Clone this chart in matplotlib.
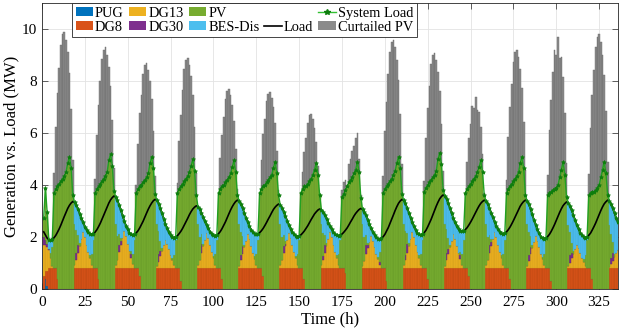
import numpy as np
import matplotlib.pyplot as plt
from matplotlib.patches import Patch
from matplotlib.lines import Line2D

plt.rcParams['font.family'] = ['Liberation Serif', 'DejaVu Serif']

# ── Data: 14 days x 24 h (MW) ─────────────────────
load_rows = [
    [2.20, 2.08, 1.96, 1.90, 1.88, 1.91, 1.97, 2.06, 2.18, 2.31, 2.46, 2.63, 2.79, 2.95, 3.10, 3.22, 3.31, 3.37, 3.33, 3.23, 3.08, 2.90, 2.72, 2.56],
    [2.40, 2.28, 2.18, 2.12, 2.10, 2.13, 2.19, 2.28, 2.40, 2.53, 2.68, 2.84, 3.00, 3.17, 3.31, 3.43, 3.52, 3.58, 3.54, 3.42, 3.24, 3.03, 2.82, 2.62],
    [2.44, 2.29, 2.17, 2.10, 2.08, 2.11, 2.16, 2.24, 2.35, 2.48, 2.61, 2.77, 2.92, 3.07, 3.20, 3.31, 3.40, 3.45, 3.41, 3.29, 3.11, 2.91, 2.70, 2.51],
    [2.33, 2.19, 2.07, 2.00, 1.98, 2.00, 2.05, 2.13, 2.22, 2.33, 2.46, 2.59, 2.72, 2.86, 2.98, 3.08, 3.15, 3.20, 3.17, 3.07, 2.94, 2.77, 2.61, 2.46],
    [2.33, 2.21, 2.12, 2.07, 2.05, 2.08, 2.13, 2.21, 2.32, 2.45, 2.58, 2.74, 2.89, 3.04, 3.17, 3.28, 3.37, 3.42, 3.38, 3.27, 3.12, 2.93, 2.75, 2.58],
    [2.42, 2.28, 2.18, 2.12, 2.10, 2.12, 2.17, 2.24, 2.33, 2.44, 2.56, 2.69, 2.81, 2.94, 3.06, 3.15, 3.22, 3.27, 3.23, 3.13, 2.98, 2.81, 2.63, 2.47],
    [2.32, 2.20, 2.10, 2.04, 2.02, 2.04, 2.08, 2.15, 2.23, 2.33, 2.43, 2.55, 2.67, 2.78, 2.89, 2.97, 3.04, 3.08, 3.05, 2.97, 2.84, 2.70, 2.55, 2.42],
    [2.30, 2.19, 2.11, 2.07, 2.05, 2.07, 2.11, 2.18, 2.26, 2.35, 2.46, 2.58, 2.69, 2.81, 2.91, 2.99, 3.06, 3.10, 3.06, 2.97, 2.83, 2.66, 2.50, 2.34],
    [2.20, 2.09, 1.99, 1.94, 1.92, 1.95, 2.01, 2.10, 2.23, 2.36, 2.52, 2.69, 2.85, 3.02, 3.17, 3.30, 3.39, 3.45, 3.41, 3.30, 3.13, 2.94, 2.75, 2.57],
    [2.41, 2.27, 2.16, 2.10, 2.08, 2.11, 2.17, 2.26, 2.39, 2.53, 2.68, 2.85, 3.02, 3.19, 3.34, 3.47, 3.56, 3.62, 3.58, 3.47, 3.30, 3.10, 2.91, 2.72],
    [2.56, 2.42, 2.30, 2.24, 2.22, 2.24, 2.29, 2.36, 2.46, 2.57, 2.69, 2.82, 2.95, 3.08, 3.20, 3.30, 3.37, 3.42, 3.38, 3.28, 3.12, 2.94, 2.76, 2.59],
    [2.43, 2.30, 2.20, 2.14, 2.12, 2.15, 2.20, 2.28, 2.38, 2.50, 2.63, 2.77, 2.91, 3.06, 3.19, 3.29, 3.37, 3.42, 3.38, 3.26, 3.08, 2.87, 2.66, 2.47],
    [2.29, 2.14, 2.02, 1.95, 1.93, 1.96, 2.02, 2.10, 2.21, 2.34, 2.48, 2.64, 2.80, 2.95, 3.09, 3.21, 3.29, 3.35, 3.31, 3.20, 3.03, 2.84, 2.65, 2.47],
    [2.31, 2.17, 2.06, 2.00, 1.98, 2.01, 2.07, 2.15, 2.27, 2.40, 2.54, 2.70, 2.86, 3.02, 3.16, 3.28, 3.36, 3.42, 3.38, 3.27, 3.10, 2.91, 2.72, 2.56],
]

pug_rows = [[0, 0.4, 0.1] + [0] * 21] + [[0] * 24] * 13

dg8_rows = [
    [.5, .3, .6, .8, .8, .8, .8, .8, .4, 0, 0, 0, 0, 0, 0, 0, 0, 0, .8, .8, .8, .8, .8, .8],
    [.8, .8, .8, .8, .8, .8, .8, .8, .4, 0, 0, 0, 0, 0, 0, 0, 0, 0, .8, .8, .8, .8, .8, .8],
    [.8, .8, .8, .8, .8, .8, .8, .8, .5, 0, 0, 0, 0, 0, 0, 0, 0, 0, .8, .8, .8, .8, .8, .8],
    [.8, .8, .8, .8, .8, .8, .8, .8, .3, 0, 0, 0, 0, 0, 0, 0, 0, 0, .8, .8, .8, .8, .8, .8],
    [.8, .8, .8, .8, .8, .8, .8, .8, .4, 0, 0, 0, 0, 0, 0, 0, 0, 0, .8, .8, .8, .8, .8, .8],
    [.8, .8, .8, .8, .8, .8, .8, .8, .5, 0, 0, 0, 0, 0, 0, 0, 0, 0, .8, .8, .8, .8, .8, .8],
    [.8, .8, .8, .8, .8, .8, .8, .8, .4, 0, 0, 0, 0, 0, 0, 0, 0, 0, .8, .8, .8, .8, .8, .8],
    [.8, .8, .8, .8, .8, .8, .8, .8, .6, 0, 0, 0, 0, 0, 0, 0, 0, 0, .8, .8, .8, .8, .8, .8],
    [.8, .8, .8, .8, .8, .8, .8, .8, .3, 0, 0, 0, 0, 0, 0, 0, 0, 0, .8, .8, .8, .8, .8, .8],
    [.8, .8, .8, .8, .8, .8, .8, .8, .4, 0, 0, 0, 0, 0, 0, 0, 0, 0, .8, .8, .8, .8, .8, .8],
    [.8, .8, .8, .8, .8, .8, .8, .8, .5, 0, 0, 0, 0, 0, 0, 0, 0, 0, .8, .8, .8, .8, .8, .8],
    [.8, .8, .8, .8, .8, .8, .8, .8, .4, 0, 0, 0, 0, 0, 0, 0, 0, 0, .8, .8, .8, .8, .8, .8],
    [.8, .8, .8, .8, .8, .8, .8, .8, .3, 0, 0, 0, 0, 0, 0, 0, 0, 0, .8, .8, .8, .8, .8, .8],
    [.8, .8, .8, .8, .8, .8, .8, .8, .4, 0, 0, 0, 0, 0, 0, 0, 0, 0, .8, .8, .8, .8, .8, .8],
]

dg13_rows = [
    [1.20, 1.00, .90, .70, .40, .10, 0, 0, 0, 0, 0, 0, 0, 0, 0, 0, 0, 0, .11, .32, .59, .87, 1.13, 1.40],
    [1.19, .91, .63, .39, .14, 0, 0, 0, 0, 0, 0, 0, 0, 0, 0, 0, 0, 0, .12, .33, .61, .90, 1.17, 1.45],
    [1.23, .94, .65, .41, .15, 0, 0, 0, 0, 0, 0, 0, 0, 0, 0, 0, 0, 0, .09, .25, .46, .68, .89, 1.10],
    [.94, .72, .50, .31, .11, 0, 0, 0, 0, 0, 0, 0, 0, 0, 0, 0, 0, 0, .11, .31, .57, .84, 1.09, 1.35],
    [1.15, .88, .61, .38, .14, 0, 0, 0, 0, 0, 0, 0, 0, 0, 0, 0, 0, 0, .10, .30, .55, .81, 1.05, 1.30],
    [1.11, .85, .59, .36, .13, 0, 0, 0, 0, 0, 0, 0, 0, 0, 0, 0, 0, 0, .11, .31, .57, .84, 1.09, 1.35],
    [1.15, .88, .61, .38, .14, 0, 0, 0, 0, 0, 0, 0, 0, 0, 0, 0, 0, 0, .11, .32, .59, .87, 1.13, 1.40],
    [1.19, .91, .63, .39, .14, 0, 0, 0, 0, 0, 0, 0, 0, 0, 0, 0, 0, 0, .10, .29, .53, .78, 1.01, 1.25],
    [1.06, .81, .56, .35, .13, 0, 0, 0, 0, 0, 0, 0, 0, 0, 0, 0, 0, 0, .11, .32, .59, .87, 1.13, 1.40],
    [1.19, .91, .63, .39, .14, 0, 0, 0, 0, 0, 0, 0, 0, 0, 0, 0, 0, 0, .10, .30, .55, .81, 1.05, 1.30],
    [1.11, .85, .59, .36, .13, 0, 0, 0, 0, 0, 0, 0, 0, 0, 0, 0, 0, 0, .11, .32, .59, .87, 1.13, 1.40],
    [1.19, .91, .63, .39, .14, 0, 0, 0, 0, 0, 0, 0, 0, 0, 0, 0, 0, 0, .10, .29, .53, .78, 1.01, 1.25],
    [1.06, .81, .56, .35, .13, 0, 0, 0, 0, 0, 0, 0, 0, 0, 0, 0, 0, 0, .07, .21, .38, .56, .73, .90],
    [.77, .59, .41, .25, .09, 0, 0, 0, 0, 0, 0, 0, 0, 0, 0, 0, 0, 0, .06, .16, .29, .43, .57, .70],
]

dg30_rows = [
    [.30, .20, .15, .05, 0, 0, 0, 0, 0, 0, 0, 0, 0, 0, 0, 0, 0, 0, 0, .25, .30, 0, 0, 0],
    [0, 0, 0, 0, 0, 0, 0, 0, 0, 0, 0, 0, 0, 0, 0, 0, 0, 0, 0, 0, .30, .15, 0, 0],
    [0, 0, 0, .15, 0, 0, 0, 0, 0, 0, 0, 0, 0, 0, 0, 0, 0, 0, 0, .30, .20, 0, 0, 0],
    [0, 0, 0, 0, 0, 0, 0, 0, 0, 0, 0, 0, 0, 0, 0, 0, 0, 0, 0, 0, .35, 0, 0, 0],
    [0, 0, 0, 0, 0, 0, 0, 0, 0, 0, 0, 0, 0, 0, 0, 0, 0, 0, 0, .20, .30, 0, 0, 0],
    [0, 0, 0, 0, 0, 0, 0, 0, 0, 0, 0, 0, 0, 0, 0, 0, 0, 0, 0, 0, .30, .10, 0, 0],
    [0, 0, 0, 0, 0, 0, 0, 0, 0, 0, 0, 0, 0, 0, 0, 0, 0, 0, 0, .15, .30, 0, 0, 0],
    [0, 0, 0, 0, 0, 0, 0, 0, 0, 0, 0, 0, 0, 0, 0, 0, 0, 0, 0, 0, .35, .10, 0, 0],
    [0, 0, 0, 0, .10, 0, 0, 0, 0, 0, 0, 0, 0, 0, 0, 0, 0, 0, 0, .20, .35, 0, 0, 0],
    [0, 0, 0, 0, 0, 0, 0, 0, 0, 0, 0, 0, 0, 0, 0, 0, 0, 0, 0, .30, .20, 0, 0, 0],
    [0, 0, 0, .15, 0, 0, 0, 0, 0, 0, 0, 0, 0, 0, 0, 0, 0, 0, 0, 0, .30, .15, 0, 0],
    [0, 0, 0, 0, 0, 0, 0, 0, 0, 0, 0, 0, 0, 0, 0, 0, 0, 0, 0, .20, .30, 0, 0, 0],
    [0, 0, 0, 0, 0, 0, 0, 0, 0, 0, 0, 0, 0, 0, 0, 0, 0, 0, 0, .30, .20, 0, 0, 0],
    [0, 0, 0, 0, 0, 0, 0, 0, 0, 0, 0, 0, 0, 0, 0, 0, 0, 0, 0, .25, .30, 0, 0, 0],
]

pv_rows = [
    [.75, 2.0, 1.2, 0, .2, .7, 2.9, 3.05, 3.55, 4.05, 4.15, 4.25, 4.35, 4.5, 4.85, 5.1, 4.65, 3.6, 1.6, .9, .4, .1, 0, 0],
    [0, 0, 0, .1, .4, 1.1, 2.9, 3.05, 3.55, 4.05, 4.15, 4.25, 4.35, 4.5, 4.95, 5.2, 4.75, 3.78, 1.6, .9, .4, .1, 0, 0],
    [0, 0, 0, .1, .4, 1.1, 2.9, 3.05, 3.45, 4.0, 4.1, 4.2, 4.3, 4.45, 4.85, 5.1, 4.65, 3.65, 1.6, .9, .4, .1, 0, 0],
    [0, 0, 0, .1, .4, 1.1, 2.9, 3.05, 3.65, 4.05, 4.15, 4.25, 4.35, 4.5, 4.75, 5.0, 4.55, 3.6, 1.6, .9, .4, .1, 0, 0],
    [0, 0, 0, .1, .4, 1.1, 2.9, 3.05, 3.55, 4.0, 4.1, 4.2, 4.3, 4.45, 4.7, 4.95, 4.5, 3.62, 1.6, .9, .4, .1, 0, 0],
    [0, 0, 0, .1, .4, 1.1, 2.9, 3.05, 3.45, 4.0, 4.1, 4.2, 4.3, 4.4, 4.65, 4.9, 4.45, 3.6, 1.6, .9, .4, .1, 0, 0],
    [0, 0, 0, .1, .4, 1.1, 2.9, 3.05, 3.55, 3.95, 4.05, 4.15, 4.25, 4.4, 4.6, 4.85, 4.4, 3.6, 1.6, .9, .4, .1, 0, 0],
    [0, 0, 0, .1, .4, 1.1, 2.75, 2.85, 3.2, 3.95, 4.1, 4.2, 4.3, 4.45, 4.6, 4.9, 4.5, 3.5, 1.6, .9, .4, .1, 0, 0],
    [0, 0, 0, .1, .4, 1.1, 2.9, 3.05, 3.65, 4.05, 4.15, 4.25, 4.4, 4.55, 4.85, 5.1, 4.65, 3.65, 1.6, .9, .4, .1, 0, 0],
    [0, 0, 0, .1, .4, 1.1, 2.95, 3.1, 3.6, 4.1, 4.2, 4.3, 4.4, 4.55, 5.0, 5.25, 4.8, 3.82, 1.6, .9, .4, .1, 0, 0],
    [0, 0, 0, .1, .4, 1.1, 2.9, 3.05, 3.45, 4.05, 4.15, 4.25, 4.35, 4.5, 4.7, 4.95, 4.5, 3.62, 1.6, .9, .4, .1, 0, 0],
    [0, 0, 0, .1, .4, 1.1, 2.9, 3.05, 3.55, 4.05, 4.15, 4.25, 4.35, 4.5, 4.85, 5.1, 4.65, 3.62, 1.6, .9, .4, .1, 0, 0],
    [0, 0, 0, .1, .4, 1.1, 2.8, 2.9, 3.45, 3.8, 3.85, 3.9, 4.0, 4.3, 4.6, 4.9, 4.4, 3.55, 1.6, .9, .4, .1, 0, 0],
    [0, 0, 0, .1, .4, 1.1, 2.8, 2.9, 3.35, 3.75, 3.8, 3.9, 4.0, 4.3, 4.6, 4.9, 4.45, 3.62, 1.6, .9, .4, .1, 0, 0],
]

# available PV (top of curtailed bars) for hours 6..17 of each day
pv_avail_rows = [
    [3.66, 5.45, 7.13, 8.51, 9.41, 9.80, 9.90, 9.60, 9.11, 8.32, 6.93, 4.95],
    [3.44, 5.12, 6.70, 8.00, 8.84, 9.21, 9.30, 9.02, 8.56, 7.81, 6.51, 4.65],
    [3.22, 4.79, 6.26, 7.48, 8.27, 8.61, 8.70, 8.44, 8.00, 7.31, 6.09, 4.35],
    [3.29, 4.90, 6.41, 7.65, 8.46, 8.81, 8.90, 8.63, 8.19, 7.48, 6.23, 4.45],
    [2.85, 4.24, 5.54, 6.62, 7.32, 7.62, 7.70, 7.47, 7.08, 6.47, 5.39, 3.85],
    [2.81, 4.18, 5.47, 6.54, 7.22, 7.52, 7.60, 7.37, 6.99, 6.38, 5.32, 3.80],
    [2.50, 3.71, 4.86, 5.81, 6.41, 6.68, 6.75, 6.55, 6.21, 5.67, 4.73, 3.38],
    [3.00, 3.30, 3.60, 4.00, 4.80, 5.00, 5.30, 5.50, 5.80, 6.00, 5.00, 3.60],
    [3.55, 5.28, 6.91, 8.26, 9.12, 9.50, 9.60, 9.31, 8.83, 8.06, 6.72, 4.80],
    [3.37, 5.01, 6.55, 7.83, 8.65, 9.01, 9.10, 8.83, 8.37, 7.64, 6.37, 4.55],
    [2.74, 4.07, 5.33, 6.36, 7.03, 6.95, 7.40, 6.90, 6.81, 6.22, 5.18, 3.70],
    [3.40, 5.06, 6.62, 7.91, 8.74, 9.11, 9.20, 8.92, 8.46, 7.73, 6.44, 4.60],
    [3.59, 5.34, 6.98, 8.34, 9.22, 9.00, 9.70, 8.90, 8.92, 8.15, 6.79, 4.85],
    [3.63, 5.39, 7.06, 8.43, 9.31, 9.70, 9.80, 9.51, 9.02, 8.23, 6.86, 4.90],
]

labels = ['PUG', 'DG8', 'DG13', 'DG30', 'PV', 'BES-Dis', 'Curtailed PV']
colors = ['#0072BD', '#D95319', '#EDB120', '#7E2F8E', '#77AC30', '#4DBEEE', '#8a8a8a']
edges  = ['#005a96', '#b84812', '#d09c1c', '#622370', '#669a28', '#44abd6', '#6a6a6a']

# ── Build hourly series ───────────────────────────
load = np.array(load_rows).ravel()
pug  = np.array(pug_rows, dtype=float).ravel()
dg8  = np.array(dg8_rows).ravel()
dg13 = np.array(dg13_rows).ravel()
dg30 = np.array(dg30_rows).ravel()
pv   = np.array(pv_rows).ravel()

gen = pug + dg8 + dg13 + dg30 + pv
bes_dis = np.clip(load - gen, 0, None)
sys_load = np.maximum(load, gen)

avail = np.array(pv_rows, dtype=float)
avail[:, 6:18] = np.maximum(avail[:, 6:18], np.array(pv_avail_rows))
curtailed = avail.ravel() - pv

t = np.arange(1, len(load) + 1)

# ── Plot ──────────────────────────────────────────
fig = plt.figure(figsize=(6.23, 3.31), dpi=100)
ax = fig.add_axes([0.0674, 0.127, 0.9245, 0.863])

series = [pug, dg8, dg13, dg30, pv, bes_dis, curtailed]
bottom = np.zeros_like(load)
for vals, c, ec in zip(series, colors, edges):
    ax.bar(t, vals, bottom=bottom, width=1.0, color=c, edgecolor=ec,
           linewidth=0.3, zorder=2)
    bottom = bottom + vals

ax.plot(t, load, color='black', lw=1.2, zorder=3)
ax.plot(t, sys_load, color='#22a022', lw=1.0, marker='*', ms=3.0,
        mfc='#0d7d0d', mec='#0d7d0d', mew=0.5, zorder=4)

ax.set_xlim(0, 336)
ax.set_ylim(0, 11)
ax.set_xticks(np.arange(0, 326, 25))
ax.set_yticks(np.arange(0, 11, 2))
ax.tick_params(direction='in', length=4, width=0.5, labelsize=11,
               top=True, right=True, colors='#262626', labelcolor='black')
ax.tick_params(axis='x', pad=5)
ax.grid(True, color='#e3e3e3', lw=0.6)
ax.set_axisbelow(True)
for s in ax.spines.values():
    s.set_linewidth(0.6)
    s.set_color('#262626')

ax.set_xlabel('Time (h)', fontsize=12, labelpad=2)
ax.set_ylabel('Generation vs. Load (MW)', fontsize=12)
ax.yaxis.set_label_coords(-0.04, 0.5)

h = [Patch(facecolor=c, edgecolor='none') for c in colors]
blank = Line2D([], [], color='none')
h_load = Line2D([], [], color='black', lw=1.2)
h_sys = Line2D([], [], color='#33c033', lw=1.0, marker='*', ms=4,
               mfc='#0d7d0d', mec='#0d7d0d')
handles = [h[0], h[1], h[2], h[3], h[4], h[5], blank, h_load, h_sys, h[6]]
names = ['PUG', 'DG8', 'DG13', 'DG30', 'PV', 'BES-Dis', '', 'Load',
         'System Load', 'Curtailed PV']
leg = ax.legend(handles, names, ncol=5, loc='upper left',
                bbox_to_anchor=(0.052, 1.0), fontsize=10.4, handlelength=1.2,
                handleheight=0.55, handletextpad=0.15, columnspacing=0.35,
                labelspacing=0.05, borderpad=0.25, borderaxespad=0,
                fancybox=False, framealpha=1)
leg.get_frame().set_edgecolor('#262626')
leg.get_frame().set_linewidth(0.6)

plt.savefig('out.png', dpi=100)
